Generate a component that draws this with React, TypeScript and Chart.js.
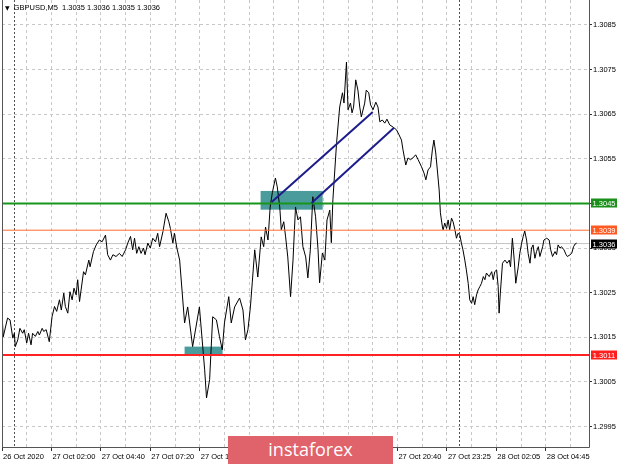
import React, { useEffect, useRef } from 'react';
import { Chart, registerables } from 'chart.js';

Chart.register(...registerables);

// minutes from 27 Oct 00:00 (M5 bars, sampled)
const times = [
  -40, -36, -22, -14, -5, 0, 3, 11, 18, 27, 32, 40, 46, 54, 59, 68, 76, 81, 90, 95,
  103, 113, 122, 130, 137, 146, 152, 160, 165, 173, 180, 187, 193, 200, 205, 211, 216, 224, 230, 241,
  245, 256, 265, 275, 284, 295, 302, 311, 319, 329, 340, 349, 360, 367, 376, 383, 389, 396, 403, 410,
  418, 423, 432, 440, 448, 457, 464, 470, 481, 491, 500, 505, 513, 518, 526, 535,
  551, 561, 577, 599, 616, 622, 632, 642, 654, 664, 673, 680, 694, 702, 713, 729, 740, 748, 756, 764,
  770, 778, 788, 799, 807, 813, 821, 828, 835, 845, 851, 859, 864, 872, 878, 885, 894, 902, 910, 918,
  926, 934, 943, 950, 958, 966, 975, 983, 988, 997, 1005, 1012, 1021, 1026, 1031, 1043,
  1053, 1062, 1067, 1075, 1080, 1088, 1093, 1098, 1105, 1112, 1118, 1123, 1134, 1139, 1147, 1153, 1161, 1170, 1177, 1183,
  1191, 1199, 1206, 1215, 1226, 1237, 1245, 1253, 1258, 1267, 1274, 1282, 1290, 1299, 1307, 1318, 1326, 1332, 1339, 1347,
  1353, 1358, 1364, 1370, 1375, 1379, 1386,
  1388, 1393, 1399, 1404, 1409, 1415, 1420, 1426, 1431, 1436, 1442, 1447, 1452, 1458, 1463, 1469, 1474, 1480, 1485, 1490,
  1496, 1501, 1507, 1512, 1518, 1523, 1528, 1537, 1545, 1550, 1555, 1561, 1566, 1569, 1573, 1580, 1588, 1595, 1602, 1606,
  1612, 1618, 1623, 1631, 1636, 1642, 1647, 1652, 1658, 1663, 1669, 1674, 1679, 1685, 1690, 1696, 1701, 1710, 1714, 1723,
  1731, 1736, 1742, 1750, 1755, 1760, 1766, 1771, 1779, 1786, 1790, 1799, 1804, 1810, 1815, 1820,
];

const closes = [
  1.30203, 1.30151, 1.30193, 1.30189, 1.30148, 1.30159, 1.30129, 1.30144, 1.30170, 1.30159,
  1.30167, 1.30137, 1.30159, 1.30133, 1.30159, 1.30152, 1.30163, 1.30155, 1.30170, 1.30163,
  1.30167, 1.30140, 1.30196, 1.30219, 1.30208, 1.30234, 1.30211, 1.30249, 1.30219, 1.30204,
  1.30252, 1.30234, 1.30260, 1.30245, 1.30279, 1.30230, 1.30256, 1.30297, 1.30290, 1.30323,
  1.30308, 1.30342, 1.30357, 1.30368, 1.30364, 1.30379, 1.30335, 1.30323, 1.30335, 1.30331,
  1.30338, 1.30331, 1.30346, 1.30361, 1.30376, 1.30346, 1.30372, 1.30338, 1.30353, 1.30338,
  1.30350, 1.30335, 1.30361, 1.30350, 1.30372, 1.30364, 1.30383, 1.30353, 1.30387, 1.30428,
  1.30409, 1.30394, 1.30361, 1.30383, 1.30350, 1.30323,
  1.30182, 1.30218, 1.30129, 1.30218, 1.30077, 1.30014, 1.30055, 1.30196, 1.30189, 1.30151,
  1.30122, 1.30182, 1.30241, 1.30182, 1.30218, 1.30238, 1.30211, 1.30144, 1.30167, 1.30218,
  1.30272, 1.30346, 1.30285, 1.30375, 1.30353, 1.30397, 1.30368, 1.30442, 1.30474, 1.30507,
  1.30487, 1.30442, 1.30391, 1.30409, 1.30375, 1.30330, 1.30241, 1.30323, 1.30442, 1.30413,
  1.30420, 1.30353, 1.30330, 1.30283, 1.30346, 1.30465, 1.30420, 1.30346, 1.30272, 1.30339,
  1.30323, 1.30413, 1.30435, 1.30362, 1.30458, 1.30586,
  1.30666, 1.30698, 1.30675, 1.30767, 1.30660, 1.30675, 1.30653, 1.30666, 1.30727, 1.30704,
  1.30666, 1.30644, 1.30675, 1.30704, 1.30698, 1.30671, 1.30660, 1.30677, 1.30666, 1.30633,
  1.30637, 1.30630, 1.30639, 1.30626, 1.30621, 1.30615, 1.30604, 1.30592, 1.30570, 1.30536,
  1.30552, 1.30548, 1.30552, 1.30559, 1.30548, 1.30532, 1.30518, 1.30503, 1.30525, 1.30532,
  1.30570, 1.30592, 1.30563, 1.30518, 1.30480, 1.30429, 1.30395,
  1.30391, 1.30406, 1.30394, 1.30413, 1.30391, 1.30417, 1.30409, 1.30391, 1.30372, 1.30383,
  1.30379, 1.30361, 1.30346, 1.30323, 1.30301, 1.30271, 1.30234, 1.30226, 1.30241, 1.30223,
  1.30245, 1.30256, 1.30264, 1.30271, 1.30286, 1.30279, 1.30294, 1.30286, 1.30297, 1.30279,
  1.30297, 1.30301, 1.30264, 1.30204, 1.30249, 1.30316, 1.30323, 1.30316, 1.30323, 1.30308,
  1.30372, 1.30323, 1.30271, 1.30308, 1.30338, 1.30361, 1.30376, 1.30388, 1.30368, 1.30338,
  1.30316, 1.30350, 1.30357, 1.30327, 1.30342, 1.30353, 1.30331, 1.30353, 1.30368, 1.30372,
  1.30368, 1.30346, 1.30331, 1.30342, 1.30335, 1.30357, 1.30350, 1.30353, 1.30346, 1.30335,
  1.30331, 1.30335, 1.30338, 1.30353, 1.30359, 1.30361,
];

const levels = [1.3045, 1.3039, 1.3011];
const bidPrice = 1.3036;
const yTickValues = [1.2995, 1.3005, 1.3015, 1.3025, 1.3035, 1.3045, 1.3055, 1.3065, 1.3075, 1.3085];
const xGridTimes = [
  -40, 40, 120, 200, 280, 360, 440, 520, 600, 680, 760, 840, 920, 1000, 1080, 1160,
  1240, 1320, 1400, 1480, 1560, 1640, 1720, 1800,
];
const xLabels = [
  '26 Oct 2020', '27 Oct 02:00', '27 Oct 04:40', '27 Oct 07:20', '27 Oct 10:00', '27 Oct 12:40',
  '27 Oct 15:20', '27 Oct 18:00', '27 Oct 20:40', '27 Oct 23:25', '28 Oct 02:05', '28 Oct 04:45',
];
const daySeparators = [0, 1440];
// [t0, t1, pLow, pHigh]
const zones = [
  [551, 674, 1.30111, 1.30129],
  [797, 998, 1.30436, 1.30478],
];
// [t0, p0, t1, p1]
const trendLines = [
  [833, 1.30453, 1160, 1.30655],
  [962, 1.30451, 1228, 1.30619],
];
const titleText = 'GBPUSD,M5  1.3035 1.3036 1.3035 1.3036';

const X_MIN = -40;
const X_MAX = 1860;
const Y_MIN = 1.29904;
const Y_MAX = 1.30906;

const levelLineColors = ['#17961a', '#ff6a2a', '#ff2222'];
const levelLineWidths = [2, 1, 2];
const levelBoxColors = ['#1a8f1a', '#ff5a22', '#ff1e1e'];
const FONT = 'Liberation Sans';

const overlayPlugin = {
  id: 'mtOverlay',
  beforeDatasetsDraw(chart: any) {
    const { ctx, chartArea: a, scales } = chart;
    const x = scales.x;
    const y = scales.y;
    ctx.save();
    ctx.beginPath();
    ctx.rect(a.left, a.top, a.right - a.left, a.bottom - a.top);
    ctx.clip();
    ctx.strokeStyle = '#505050';
    ctx.lineWidth = 1;
    ctx.setLineDash([2, 2]);
    daySeparators.forEach((t) => {
      const px = Math.round(x.getPixelForValue(t)) + 0.5;
      ctx.beginPath();
      ctx.moveTo(px, a.top);
      ctx.lineTo(px, a.bottom);
      ctx.stroke();
    });
    ctx.setLineDash([]);
    ctx.fillStyle = '#4a9b9b';
    zones.forEach(([t0, t1, p0, p1]) => {
      const x0 = x.getPixelForValue(t0);
      const x1 = x.getPixelForValue(t1);
      const y0 = y.getPixelForValue(p1);
      const y1 = y.getPixelForValue(p0);
      ctx.fillRect(x0, y0, x1 - x0, y1 - y0);
    });
    ctx.restore();
  },
  afterDatasetsDraw(chart: any) {
    const { ctx, chartArea: a, scales } = chart;
    const x = scales.x;
    const y = scales.y;
    ctx.save();
    ctx.strokeStyle = '#1c1c8c';
    ctx.lineWidth = 2;
    trendLines.forEach(([t0, p0, t1, p1]) => {
      ctx.beginPath();
      ctx.moveTo(x.getPixelForValue(t0), y.getPixelForValue(p0));
      ctx.lineTo(x.getPixelForValue(t1), y.getPixelForValue(p1));
      ctx.stroke();
    });
    ctx.strokeStyle = '#555555';
    ctx.lineWidth = 1;
    ctx.beginPath();
    ctx.moveTo(a.left + 0.5, a.top);
    ctx.lineTo(a.left + 0.5, a.bottom + 0.5);
    ctx.lineTo(a.right + 0.5, a.bottom + 0.5);
    ctx.lineTo(a.right + 0.5, a.top);
    ctx.stroke();
    ctx.restore();
  },
  afterDraw(chart: any) {
    const { ctx, chartArea: a, scales } = chart;
    const y = scales.y;
    ctx.save();
    ctx.font = `7.5px "${FONT}"`;
    ctx.textAlign = 'center';
    ctx.textBaseline = 'middle';
    const boxes = levels.map((v, i) => ({ v, c: levelBoxColors[i] }));
    boxes.push({ v: bidPrice, c: '#000000' });
    boxes.forEach(({ v, c }) => {
      const py = Math.round(y.getPixelForValue(v));
      const bx = a.right + 2;
      ctx.fillStyle = c;
      ctx.fillRect(bx, py - 4.5, 26, 9);
      ctx.fillStyle = '#ffffff';
      ctx.fillText(v.toFixed(4), bx + 13, py + 0.5);
    });
    ctx.restore();
  },
};

export default function App() {
  const canvasRef = useRef<HTMLCanvasElement | null>(null);

  useEffect(() => {
    const canvas = canvasRef.current;
    if (!canvas) return;
    const pricePoints = times.map((t, i) => ({ x: t, y: closes[i] }));
    const levelDatasets = levels.map((v, i) => ({
      data: [{ x: X_MIN, y: v }, { x: X_MAX, y: v }],
      borderColor: levelLineColors[i],
      borderWidth: levelLineWidths[i],
      pointRadius: 0,
      tension: 0,
      fill: false,
    }));
    const chart = new Chart(canvas, {
      type: 'line',
      data: {
        datasets: [
          ...levelDatasets,
          {
            data: pricePoints,
            borderColor: '#000000',
            borderWidth: 1,
            pointRadius: 0,
            tension: 0,
            fill: false,
          },
          {
            data: [{ x: X_MIN, y: bidPrice }, { x: X_MAX, y: bidPrice }],
            borderColor: '#c4c4c4',
            borderWidth: 1,
            pointRadius: 0,
            tension: 0,
            fill: false,
          },
        ],
      },
      options: {
        responsive: false,
        animation: false,
        devicePixelRatio: 1,
        layout: { padding: { left: 2, top: 0, right: 0, bottom: 0 } },
        plugins: { legend: { display: false }, tooltip: { enabled: false } },
        scales: {
          x: {
            type: 'linear',
            min: X_MIN,
            max: X_MAX,
            afterBuildTicks: (s: any) => {
              s.ticks = xGridTimes.map((v) => ({ value: v }));
            },
            afterFit: (s: any) => {
              s.height = 18;
              s.paddingLeft = 0;
              s.paddingRight = 0;
              s.paddingTop = 0;
              s.paddingBottom = 0;
            },
            ticks: {
              autoSkip: false,
              maxRotation: 0,
              minRotation: 0,
              align: 'start',
              padding: 1,
              labelOffset: 1,
              color: '#000000',
              font: { family: FONT, size: 7.5 },
              callback: (_v: any, i: number) => (i % 2 === 0 ? xLabels[i / 2] ?? '' : ''),
            },
            grid: {
              color: '#c8c8c8',
              lineWidth: 1,
              tickLength: 4,
              tickColor: (c: any) => (c.index % 2 === 0 ? '#303030' : 'rgba(0,0,0,0)'),
            },
            border: { display: false, dash: [3, 3] },
          },
          y: {
            type: 'linear',
            position: 'right',
            min: Y_MIN,
            max: Y_MAX,
            afterBuildTicks: (s: any) => {
              s.ticks = yTickValues.map((v) => ({ value: v }));
            },
            afterFit: (s: any) => {
              s.width = 31;
              s.paddingLeft = 0;
              s.paddingRight = 0;
              s.paddingTop = 0;
              s.paddingBottom = 0;
            },
            ticks: {
              padding: 1,
              color: '#000000',
              font: { family: FONT, size: 7.5 },
              callback: (v: any) => Number(v).toFixed(4),
            },
            grid: {
              color: '#c8c8c8',
              lineWidth: 1,
              tickLength: 3,
              tickColor: '#303030',
            },
            border: { display: false, dash: [3, 3] },
          },
        },
      },
      plugins: [overlayPlugin],
    } as any);
    return () => chart.destroy();
  }, []);

  return (
    <div
      style={{
        position: 'fixed',
        left: 0,
        top: 0,
        width: 620,
        height: 465,
        background: '#ffffff',
        overflow: 'hidden',
      }}
    >
      <canvas ref={canvasRef} width={620} height={465} style={{ display: 'block' }} />
      <div
        style={{
          position: 'absolute',
          left: 5,
          top: 3,
          fontFamily: FONT,
          fontSize: 7.5,
          lineHeight: '10px',
          color: '#000',
          whiteSpace: 'pre',
        }}
      >
        <span style={{ fontFamily: 'DejaVu Sans', fontSize: 6, marginRight: 4 }}>▼</span>
        {titleText}
      </div>
      <div
        style={{
          position: 'absolute',
          left: 228,
          top: 436,
          width: 165,
          height: 28,
          background: '#e0626a',
          color: '#ffffff',
          fontFamily: '"Open Sans"',
          fontSize: 18,
          lineHeight: '27px',
          textAlign: 'center',
        }}
      >
        instaforex
      </div>
    </div>
  );
}
